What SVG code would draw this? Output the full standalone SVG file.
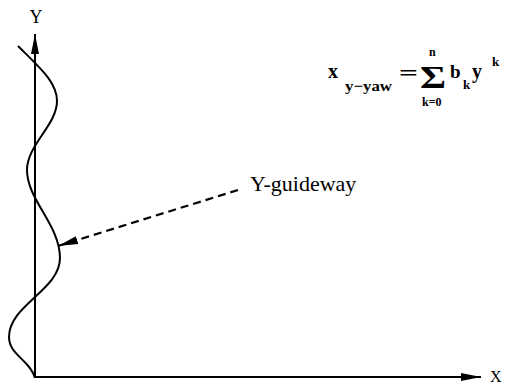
<svg xmlns="http://www.w3.org/2000/svg" width="507" height="386" viewBox="0 0 507 386">
<style>
.ax{stroke:#000;stroke-width:2;fill:none}
.lbl{font-family:"Liberation Serif",serif;fill:#000}
.f{font-family:"Liberation Serif",serif;font-weight:bold;fill:#000}
</style>
<defs>
<marker id="ah" markerWidth="22" markerHeight="10" refX="20" refY="5" orient="auto" markerUnits="userSpaceOnUse">
<path d="M0,1 L20,5 L0,9 Z" fill="#000"/>
</marker>
</defs>
<rect width="507" height="386" fill="#fff"/>
<g id="connectors">
<line class="ax" x1="35" y1="378" x2="35" y2="34" marker-end="url(#ah)"/>
<line class="ax" x1="34" y1="377" x2="481" y2="377" marker-end="url(#ah)"/>
<line x1="238" y1="190" x2="58" y2="246" stroke="#000" stroke-width="2.2" stroke-dasharray="8,5" marker-end="url(#ah)"/>
</g>
<g id="curve">
<path class="ax" d="M18,46 C40,68 57,82 57,101 C57,125 27,145 27,170 C27,200 60,225 60,258 C60,290 9,305 9,337 C9,355 30,360 35,378"/>
</g>
<g id="label-Y"><text class="lbl" x="36" y="23" font-size="18" text-anchor="middle">Y</text></g>
<g id="label-X"><text class="lbl" x="490" y="382" font-size="16">X</text></g>
<g id="label-guideway"><text class="lbl" x="250" y="191" font-size="22">Y-guideway</text></g>
<g id="formula">
<text class="f" x="328" y="78" font-size="20">x</text>
<text class="f" x="345" y="91" font-size="15" textLength="47" lengthAdjust="spacingAndGlyphs">y−yaw</text>
<text class="f" x="399" y="80" font-size="22" textLength="19" lengthAdjust="spacingAndGlyphs">=</text>
<text class="f" x="420" y="88" font-size="32" textLength="26" lengthAdjust="spacingAndGlyphs">Σ</text>
<text class="f" x="429" y="56" font-size="12">n</text>
<text class="f" x="422" y="106" font-size="12">k=0</text>
<text class="f" x="450" y="78" font-size="19">b</text>
<text class="f" x="463" y="89" font-size="13">k</text>
<text class="f" x="472" y="78" font-size="20">y</text>
<text class="f" x="492" y="66" font-size="13">k</text>
</g>
</svg>
